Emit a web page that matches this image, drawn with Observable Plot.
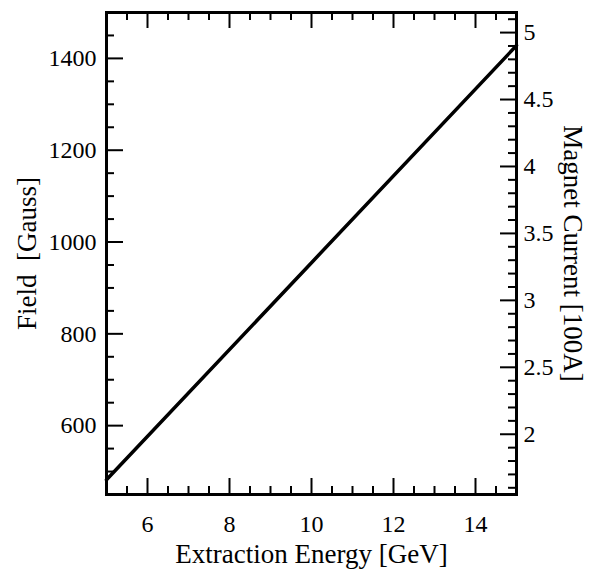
<!DOCTYPE html>
<html>
<head>
<meta charset="utf-8">
<script src="https://cdn.jsdelivr.net/npm/d3@7"></script>
<script src="https://cdn.jsdelivr.net/npm/@observablehq/plot@0.6"></script>
<style>
  html, body { margin: 0; padding: 0; background: #fff; }
</style>
</head>
<body>
<div id="chart"></div>
<script>
// Data
const energy = [5, 10, 15];             // Extraction Energy [GeV]
const field = [482, 955, 1428];         // Field [Gauss]

const xDomain = [5, 15];
const fieldDomain = [450, 1500];
const currentDomain = [1.55, 5.15];     // Magnet Current [100A], right axis

const xMajor = [6, 8, 10, 12, 14];
const xMinor = [5.5, 6.5, 7, 7.5, 8.5, 9, 9.5, 10.5, 11, 11.5, 12.5, 13, 13.5, 14.5];
const fieldMajor = [600, 800, 1000, 1200, 1400];
const fieldMinor = [500, 550, 650, 700, 750, 850, 900, 950, 1050, 1100, 1150, 1250, 1300, 1350, 1450];
const currentMajor = [2, 2.5, 3, 3.5, 4, 4.5, 5];
const currentMinor = [1.6, 1.7, 1.8, 1.9, 2.1, 2.2, 2.3, 2.4, 2.6, 2.7, 2.8, 2.9, 3.1, 3.2, 3.3, 3.4,
  3.6, 3.7, 3.8, 3.9, 4.1, 4.2, 4.3, 4.4, 4.6, 4.7, 4.8, 4.9, 5.1];

const xTitle = "Extraction Energy [GeV]";
const yTitle = "Field  [Gauss]";
const y2Title = "Magnet Current [100A]";

const rows = energy.map((e, i) => ({energy: e, field: field[i]}));

// current -> field position (right axis is a linear twin of the left)
const cur2field = d3.scaleLinear().domain(currentDomain).range(fieldDomain);

const W = 590, H = 581;
const mL = 106, mR = 74, mT = 12, mB = 87;
const pw = W - mL - mR, ph = H - mT - mB;

const chart = Plot.plot({
  width: W,
  height: H,
  marginLeft: mL,
  marginRight: mR,
  marginTop: mT,
  marginBottom: mB,
  style: {fontFamily: "'Liberation Serif', 'Times New Roman', serif", fontSize: "24px", background: "#fff", color: "#000"},
  x: {domain: xDomain},
  y: {domain: fieldDomain},
  marks: [
    // bottom / top ticks (inward)
    Plot.tickX(xMajor, {x: d => d, insetTop: ph - 16, stroke: "#000", strokeWidth: 2}),
    Plot.tickX(xMinor, {x: d => d, insetTop: ph - 8, stroke: "#000", strokeWidth: 2}),
    Plot.tickX(xMajor, {x: d => d, insetBottom: ph - 16, stroke: "#000", strokeWidth: 2}),
    Plot.tickX(xMinor, {x: d => d, insetBottom: ph - 8, stroke: "#000", strokeWidth: 2}),
    // left ticks
    Plot.tickY(fieldMajor, {y: d => d, insetRight: pw - 17, stroke: "#000", strokeWidth: 2}),
    Plot.tickY(fieldMinor, {y: d => d, insetRight: pw - 8, stroke: "#000", strokeWidth: 2}),
    // right ticks (current)
    Plot.tickY(currentMajor, {y: d => cur2field(d), insetLeft: pw - 16, stroke: "#000", strokeWidth: 2}),
    Plot.tickY(currentMinor, {y: d => cur2field(d), insetLeft: pw - 8, stroke: "#000", strokeWidth: 2}),
    // tick labels
    Plot.axisX({ticks: xMajor, tickSize: 0, tickPadding: 20, label: null, tickFormat: d => String(d)}),
    Plot.axisY({ticks: fieldMajor, tickSize: 0, tickPadding: 10, label: null, tickFormat: d => String(d)}),
    Plot.text(currentMajor, {y: d => cur2field(d), text: d => String(d), frameAnchor: "right", textAnchor: "start", dx: 7, fill: "#000"}),
    // axis titles
    Plot.text([xTitle], {text: d => d, frameAnchor: "bottom", textAnchor: "middle", dy: 68, fill: "#000", fontSize: 27}),
    Plot.text([yTitle], {text: d => d, frameAnchor: "left", textAnchor: "middle", dx: -79, rotate: -90, fill: "#000", fontSize: 27}),
    Plot.text([y2Title], {text: d => d, frameAnchor: "right", textAnchor: "middle", dx: 56, rotate: 90, fill: "#000", fontSize: 27}),
    // data line
    Plot.line(rows, {x: "energy", y: "field", stroke: "#000", strokeWidth: 3.5}),
    Plot.frame({stroke: "#000", strokeWidth: 3})
  ]
});

document.getElementById("chart").appendChild(chart);
</script>
</body>
</html>
